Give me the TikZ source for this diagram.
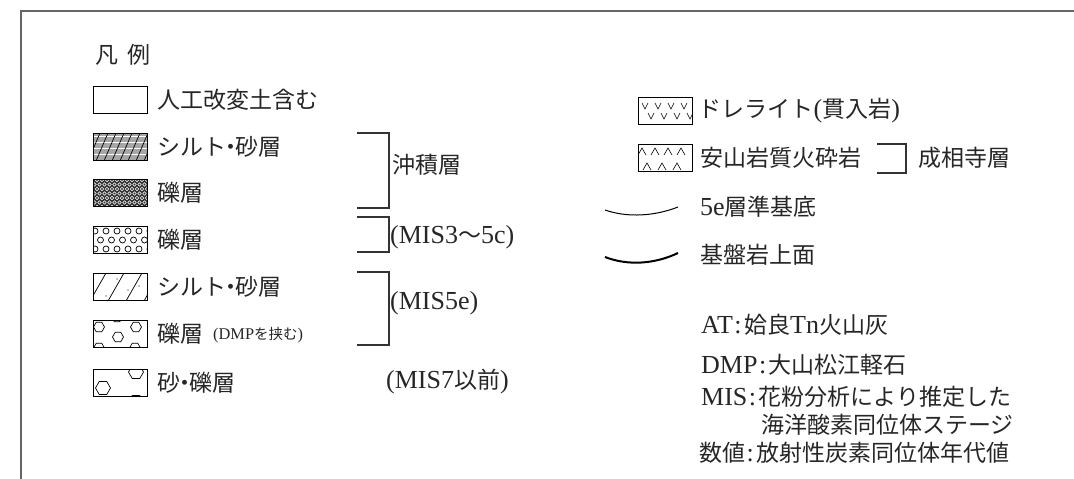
\documentclass[tikz,border=0pt]{standalone}
\usepackage{fontspec}
\setmainfont{Liberation Serif}[Scale=1.13]
\newfontfamily\jp{Noto Sans CJK JP}
\usetikzlibrary{positioning}
\newcommand{\hexa}[3]{\draw (#1,#2) +(0:#3) -- +(60:#3) -- +(120:#3) -- +(180:#3) -- +(240:#3) -- +(300:#3) -- cycle;}
\newcommand{\nakaguro}{\kern-.3em{\jp ・}\kern-.3em}
\newcommand{\sepcolon}{\kern1.5pt:\kern2.5pt}

\begin{document}
\begin{tikzpicture}[x=1pt,y=-1pt,font=\fontsize{23}{26}\selectfont,
  swatch/.style={draw,line width=1pt,minimum width=54pt,minimum height=27pt,inner sep=0pt},
  lbl/.style={anchor=west,inner sep=0pt,text=black!85},
  brk/.style={draw=black!80,line width=1.2pt}]
 \useasboundingbox (0,0) rectangle (1074,479);
 \draw[black!60,line width=1.5pt] (1074,11) -- (21,11) -- (21,479);
 \node[lbl] (title) at (95,55) {\jp 凡\hspace{0.4em}例};
 % left column
 \node[swatch] (fill) at (120,100) {};
 \node[lbl,right=10pt of fill] (fillt) {\jp 人工改変土含む};
 \begin{scope}[shift={(120,147)}]
 \clip (-27,-13.5) rectangle (27,13.5);
 \fill[black!35] (-27,-14) rectangle (27,14);
 \foreach \j in {-11,-5,...,13} \draw[white,line width=0.9pt] (-27,\j) -- (27,\j);
 \foreach \i in {-40,-32,...,32} \draw[line width=0.7pt] (\i,14) -- (\i+12,-14);
 \end{scope}
 \node[swatch] (siltA) at (120,147) {};
 \node[lbl,right=10pt of siltA] (siltAt) {\jp シルト\nakaguro 砂層};
 \begin{scope}[shift={(120,193)}]
 \clip (-27,-13.5) rectangle (27,13.5);
 \fill[black!80] (-27,-14) rectangle (27,14);
 \foreach \r [evaluate=\r as \o using {mod(\r,2)*2.5}] in {0,...,6}
  \foreach \c in {0,...,11} \draw[white,line width=0.45pt] (-28+\c*5+\o,-13+\r*4.5) circle (1.8);
 \end{scope}
 \node[swatch] (gravA) at (120,193) {};
 \node[lbl,right=10pt of gravA] (gravAt) {\jp 礫層};
 \begin{scope}[shift={(120,240)}]
 \clip (-27,-13.5) rectangle (27,13.5);
 \foreach \r [evaluate=\r as \o using {mod(\r,2)*5.5}] in {0,1,2}
  \foreach \c in {0,...,5} \draw[line width=0.7pt] (-25+\c*11+\o,-9+\r*9) circle (3);
 \end{scope}
 \node[swatch] (gravB) at (120,240) {};
 \node[lbl,right=10pt of gravB] (gravBt) {\jp 礫層};
 \begin{scope}[shift={(120,287)}]
 \clip (-27,-13.5) rectangle (27,13.5);
 \foreach \i in {-30,-12,6,24} \draw[line width=0.7pt] (\i,14) -- (\i+16,-14);
 \foreach \p in {(-3,-8),(8,3),(19,-1),(-14,9)} \fill \p circle (0.6);
 \end{scope}
 \node[swatch] (siltB) at (120,287) {};
 \node[lbl,right=10pt of siltB] (siltBt) {\jp シルト\nakaguro 砂層};
 \begin{scope}[shift={(120,334)},line width=0.7pt]
 \clip (-27,-13.5) rectangle (27,13.5);
 \hexa{-21}{-7}{5.5} \hexa{-3}{-17}{5.5} \hexa{16}{-7}{5.5}
 \hexa{-2}{3}{5.5} \hexa{-21}{14}{5.5} \hexa{15}{14}{5.5}
 \end{scope}
 \node[swatch] (gravC) at (120,334) {};
 \node[lbl,right=10pt of gravC] (gravCt) {\jp 礫層};
 \node[lbl,font=\fontsize{14.5}{17}\selectfont] (dmp) at (213,335) {(DMP{\jp を挟む})};
 \begin{scope}[shift={(120,383)},line width=0.7pt]
 \clip (-27,-13.5) rectangle (27,13.5);
 \hexa{-17}{5}{7.5} \hexa{16}{-11}{7.5} \hexa{16}{19}{7.5}
 \end{scope}
 \node[swatch] (sandg) at (120,383) {};
 \node[lbl,right=10pt of sandg] (sandgt) {\jp 砂\nakaguro 礫層};
 % brackets
 \draw[brk] (357,133) -| (389,208) -- (357,208);
 \node[lbl] (alluv) at (392,165) {\jp 沖積層};
 \draw[brk] (357,217) -| (389,252) -- (357,252);
 \node[lbl] (mis3) at (390,237) {(MIS3{\jp 〜}5c)};
 \draw[brk] (357,272) -| (389,345) -- (357,345);
 \node[lbl] (mis5) at (390,303) {(MIS5e)};
 \node[lbl] (mis7) at (386,382) {(MIS7{\jp 以前})};
 % right column
 \begin{scope}[shift={(665,111)},line width=0.6pt]
 \clip (-27,-13.5) rectangle (27,13.5);
 \foreach \x in {-20,-7,6,19} \draw (\x-3,-8) -- (\x,-2) -- (\x+3,-8);
 \foreach \x in {-14,-1,12,25} \draw (\x-3,2) -- (\x,8) -- (\x+3,2);
 \end{scope}
 \node[swatch] (dol) at (665,111) {};
 \node[lbl,right=6pt of dol] (dolt) {{\jp ドレライト}({\jp 貫入岩})};
 \begin{scope}[shift={(665,158)},line width=0.6pt]
 \clip (-27,-13.5) rectangle (27,13.5);
 \foreach \x in {-23,-10,3,16} \draw (\x-4,-3) -- (\x,-10) -- (\x+4,-3);
 \foreach \x in {-18,-3,12} \draw (\x-4,12) -- (\x,5) -- (\x+4,12);
 \end{scope}
 \node[swatch] (and) at (665,158) {};
 \node[lbl,right=8pt of and] (andt) {\jp 安山岩質火砕岩};
 \draw[brk] (877,144) -| (906,173) -- (877,173);
 \node[lbl] (seis) at (918,158) {\jp 成相寺層};
 \coordinate (b5a) at (605,210);
 \coordinate (b5b) at (678,207);
 \draw[line width=1pt] (b5a) .. controls (628,218) and (655,216) .. (b5b);
 \node[lbl] (b5t) at (700,207) {5e{\jp 層準基底}};
 \coordinate (bsa) at (605,257);
 \coordinate (bsb) at (678,253);
 \draw[line width=2pt] (bsa) .. controls (628,266) and (655,264) .. (bsb);
 \node[lbl] (bst) at (700,255) {\jp 基盤岩上面};
 % notes
 \node[lbl] (at) at (701,325) {AT\sepcolon{\jp 姶良}Tn{\jp 火山灰}};
 \node[lbl] (dmpn) at (701,365) {DMP\sepcolon{\jp 大山松江軽石}};
 \node[lbl] (mis) at (701,397) {MIS\sepcolon{\jp 花粉分析により推定した}};
 \node[lbl] (mis2) at (761,425) {\jp 海洋酸素同位体ステージ};
 \node[lbl] (num) at (699,453) {{\jp 数値}\sepcolon{\jp 放射性炭素同位体年代値}};
\end{tikzpicture}
\end{document}
